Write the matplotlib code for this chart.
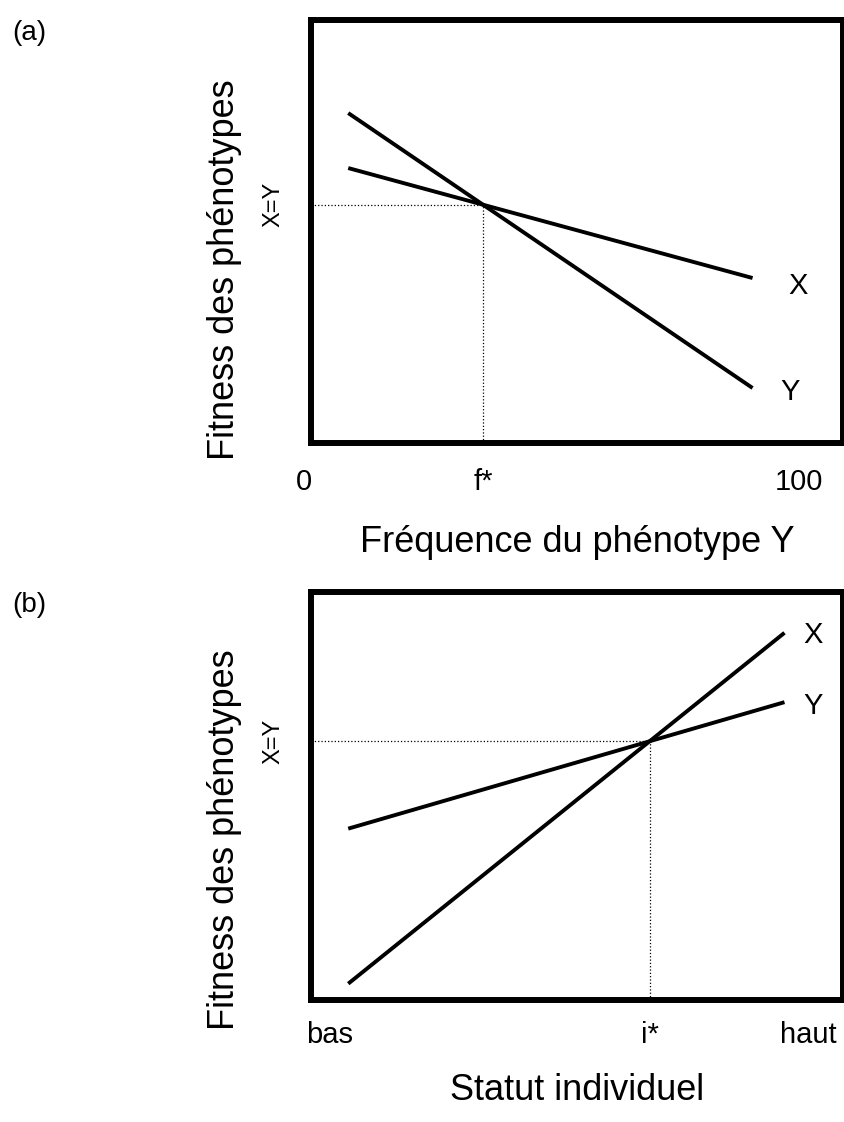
import matplotlib
matplotlib.use('Agg')
import matplotlib.pyplot as plt

plt.rcParams['font.family'] = ['Liberation Sans', 'DejaVu Sans']

# (a) fitness en fonction de la fréquence du phénotype Y
freq = [7, 83]
fit_x_a = [65, 39]
fit_y_a = [78, 13]
ticks_a = ['0', 'f*', '100']

# (b) fitness en fonction du statut individuel
statut = [7, 89]
fit_x_b = [4, 90]
fit_y_b = [42, 73]
ticks_b = ['bas', 'i*', 'haut']


def crossing(x, y1, y2):
    s1 = (y1[1] - y1[0]) / (x[1] - x[0])
    s2 = (y2[1] - y2[0]) / (x[1] - x[0])
    xc = x[0] + (y2[0] - y1[0]) / (s1 - s2)
    return xc, y1[0] + s1 * (xc - x[0])


W, H = 844, 1122
fig = plt.figure(figsize=(W / 100, H / 100), dpi=100)


def panel(top, bottom, x, fx, fy, ticks, xlabel, tag, lab_x, lab_y,
          tick_y, xlab_y, ylab_c, tick_x):
    h = bottom - top
    ax = fig.add_axes([311 / W, 1 - bottom / H, 532 / W, h / H])
    ax.set_xlim(0, 100)
    ax.set_ylim(0, 100)
    ax.set_xticks([])
    ax.set_yticks([])
    for s in ax.spines.values():
        s.set_linewidth(4.3)
    ax.plot(x, fx, color='black', lw=2.8, solid_capstyle='butt')
    ax.plot(x, fy, color='black', lw=2.8, solid_capstyle='butt')
    xc, yc = crossing(x, fx, fy)
    ax.plot([0, xc], [yc, yc], color='black', lw=0.9, ls=':')
    ax.plot([xc, xc], [0, yc], color='black', lw=0.9, ls=':')
    ax.text(lab_x[0], lab_x[1], 'X', fontsize=21, ha='center', va='center')
    ax.text(lab_y[0], lab_y[1], 'Y', fontsize=21, ha='center', va='center')
    ty = -(tick_y - bottom) / h
    ax.text(tick_x[0], ty, ticks[0], transform=ax.transAxes, fontsize=21,
            ha='center', va='center')
    ax.text(xc / 100, ty, ticks[1], transform=ax.transAxes, fontsize=21,
            ha='center', va='center')
    ax.text(tick_x[1], ty, ticks[2], transform=ax.transAxes, fontsize=21,
            ha='center', va='center')
    ax.text(0.5, -(xlab_y - bottom) / h, xlabel, transform=ax.transAxes,
            fontsize=26, ha='center', va='center')
    ax.text(-0.162, (bottom - ylab_c) / h, 'Fitness des phénotypes',
            transform=ax.transAxes, fontsize=26, rotation=90,
            ha='center', va='center')
    ax.text(-0.07, yc, 'X=Y', transform=ax.get_yaxis_transform(),
            fontsize=17, rotation=90, ha='center', va='center')
    fig.text(12 / W, 1 - top / H, tag, fontsize=20, ha='left', va='top')
    return ax


panel(20, 443, freq, fit_x_a, fit_y_a, ticks_a, 'Fréquence du phénotype Y',
      '(a)', (91.5, 37), (90, 12), 482, 543, 270, (-0.013, 0.918))
panel(592, 1000, statut, fit_x_b, fit_y_b, ticks_b, 'Statut individuel',
      '(b)', (94.4, 89.5), (94.4, 72), 1035, 1090, 840, (0.035, 0.935))

fig.savefig('out.png', dpi=100)
